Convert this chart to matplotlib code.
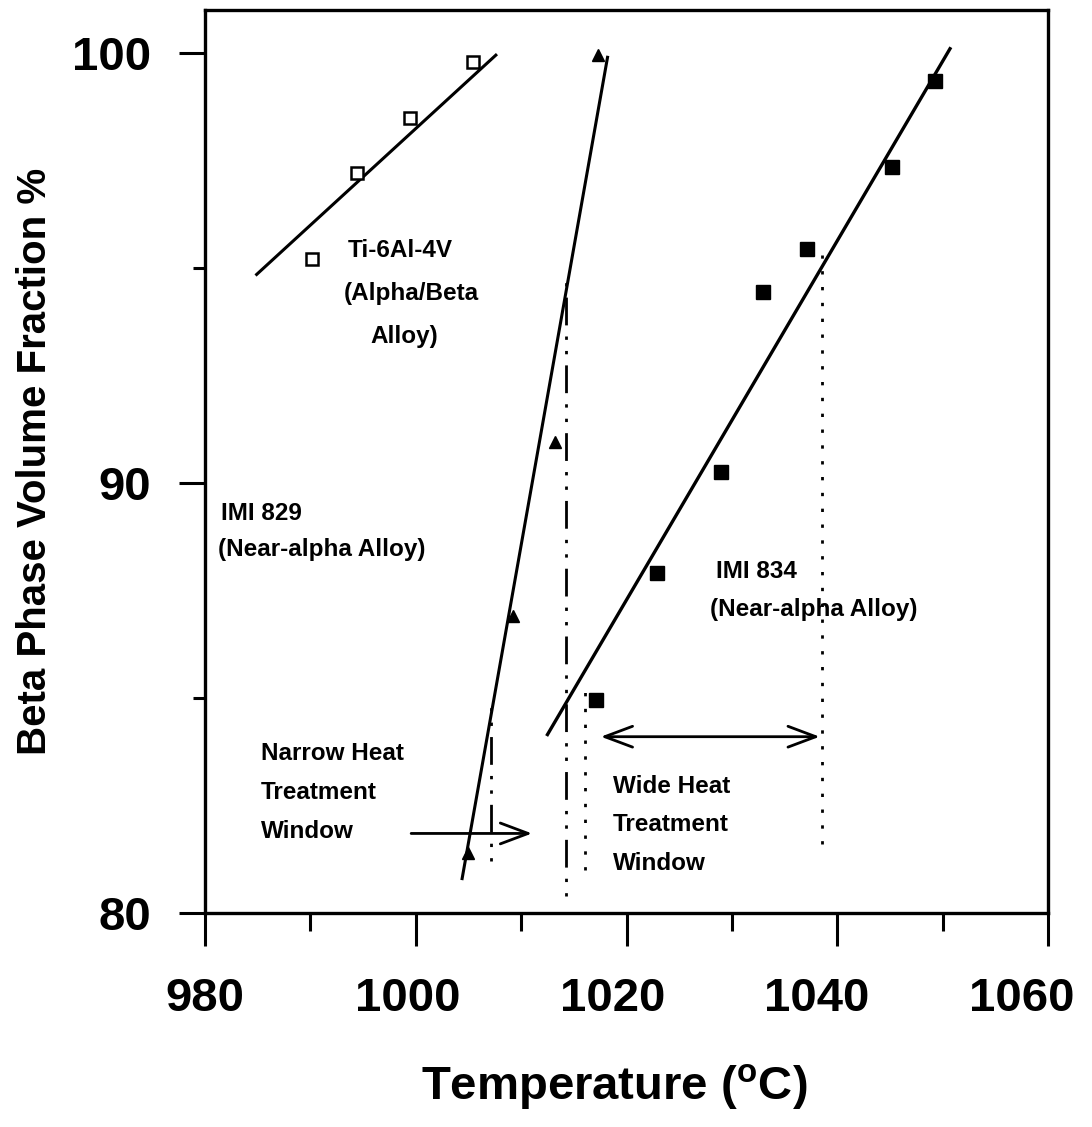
import numpy as np
import matplotlib.pyplot as plt
from matplotlib.ticker import MultipleLocator
from matplotlib.transforms import ScaledTranslation

plt.rcParams['font.family'] = ['Liberation Sans', 'DejaVu Sans']
plt.rcParams['font.weight'] = 'bold'
plt.rcParams['mathtext.fontset'] = 'custom'
plt.rcParams['mathtext.rm'] = 'Liberation Sans:bold'
plt.rcParams['mathtext.bf'] = 'Liberation Sans:bold'

# Ti-6Al-4V (alpha/beta alloy), open squares
ti64_temp = [990.2, 994.4, 999.5, 1005.4]
ti64_beta = [95.2, 97.2, 98.5, 99.8]
ti64_fit_temp = [984.9, 1007.6]
ti64_fit_beta = [94.85, 99.95]

# IMI 829 (near-alpha alloy), triangles
imi829_temp = [1005.0, 1009.2, 1013.2, 1017.3]
imi829_beta = [81.4, 86.9, 90.95, 99.95]
imi829_fit_temp = [1004.4, 1018.2]
imi829_fit_beta = [80.8, 99.9]

# IMI 834 (near-alpha alloy), filled squares
imi834_temp = [1017.1, 1022.9, 1029.0, 1033.0, 1037.1, 1045.2, 1049.3]
imi834_beta = [84.95, 87.9, 90.25, 94.45, 95.45, 97.35, 99.35]
imi834_fit_temp = [1012.5, 1050.7]
imi834_fit_beta = [84.15, 100.1]

# heat treatment window guide lines (temp, beta from, beta to)
narrow_lo = (1007.1, 81.2, 84.9)
narrow_hi = (1014.3, 80.4, 94.7)
wide_lo = (1016.1, 81.0, 85.3)
wide_hi = (1038.6, 81.6, 95.3)

xticks = [980, 1000, 1020, 1040, 1060]
xlabel_shift = [0, -8, -14, -21, -26]   # px, labels drift left in the original
yticks = [80, 90, 100]

fig = plt.figure(figsize=(10.92, 11.27), dpi=100)
ax = fig.add_axes([205/1092, 1 - 913/1127, 843/1092, 903/1127])

ax.plot(ti64_fit_temp, ti64_fit_beta, 'k-', lw=2.2)
ax.plot(ti64_temp, ti64_beta, 's', mfc='white', mec='k', mew=1.8, ms=9)
ax.plot(imi829_fit_temp, imi829_fit_beta, 'k-', lw=2.2)
ax.plot(imi829_temp, imi829_beta, '^', color='k', ms=8.5)
ax.plot(imi834_fit_temp, imi834_fit_beta, 'k-', lw=2.4)
ax.plot(imi834_temp, imi834_beta, 's', color='k', ms=10)

dashdotdot = (0, (1.2, 4, 1.2, 4, 10, 4))
ax.plot([narrow_lo[0]] * 2, narrow_lo[1:], 'k', lw=2, ls=dashdotdot)
ax.plot([narrow_hi[0]] * 2, narrow_hi[1:], 'k', lw=2, ls=dashdotdot)
ax.plot([wide_lo[0]] * 2, wide_lo[1:], 'k', lw=2, ls=(0, (1.2, 4.5)))
ax.plot([wide_hi[0]] * 2, wide_hi[1:], 'k', lw=2, ls=(0, (1.2, 4.5)))

ax.annotate('', xy=(1011.3, 81.85), xytext=(999.3, 81.85),
            arrowprops=dict(arrowstyle='->,head_length=2.0,head_width=0.75',
                            color='k', lw=2))
ax.annotate('', xy=(1038.6, 84.1), xytext=(1017.3, 84.1),
            arrowprops=dict(arrowstyle='<->,head_length=2.0,head_width=0.75',
                            color='k', lw=2))

tfont = dict(fontsize=17.5, fontweight='bold', va='center', ha='left')
ax.text(993.5, 95.4, 'Ti-6Al-4V', **tfont)
ax.text(993.2, 94.4, '(Alpha/Beta', **tfont)
ax.text(995.7, 93.4, 'Alloy)', **tfont)
ax.text(981.5, 89.3, 'IMI 829', **tfont)
ax.text(981.2, 88.45, '(Near-alpha Alloy)', **tfont)
ax.text(1028.5, 87.95, 'IMI 834', **tfont)
ax.text(1027.9, 87.05, '(Near-alpha Alloy)', **tfont)
ax.text(985.3, 83.7, 'Narrow Heat', **tfont)
ax.text(985.3, 82.8, 'Treatment', **tfont)
ax.text(985.3, 81.9, 'Window', **tfont)
ax.text(1018.7, 82.95, 'Wide Heat', **tfont)
ax.text(1018.7, 82.05, 'Treatment', **tfont)
ax.text(1018.7, 81.15, 'Window', **tfont)

ax.set_xlim(980, 1060)
ax.set_ylim(80, 101)
ax.set_xticks(xticks)
ax.set_yticks(yticks)
ax.xaxis.set_minor_locator(MultipleLocator(10))
ax.yaxis.set_minor_locator(MultipleLocator(5))
ax.tick_params(which='major', direction='out', width=2.2, labelsize=34)
ax.tick_params(axis='x', which='major', length=24, pad=22)
ax.tick_params(axis='x', which='minor', length=13, width=2.2)
ax.tick_params(axis='y', which='major', length=19, pad=20)
ax.tick_params(axis='y', which='minor', length=9, width=2.2)
for s in ax.spines.values():
    s.set_linewidth(2.4)

for lab, dx in zip(ax.get_xticklabels(), xlabel_shift):
    lab.set_transform(lab.get_transform() +
                      ScaledTranslation(dx / 100, 0, fig.dpi_scale_trans))

ax.set_xlabel(r'Temperature ($^{\mathrm{o}}$C)', fontsize=34, fontweight='bold',
              labelpad=30)
ax.xaxis.set_label_coords(0.485, -0.165)
ax.set_ylabel('Beta Phase Volume Fraction %', fontsize=29, fontweight='bold',
              labelpad=13)

fig.savefig('out.png', dpi=100)
